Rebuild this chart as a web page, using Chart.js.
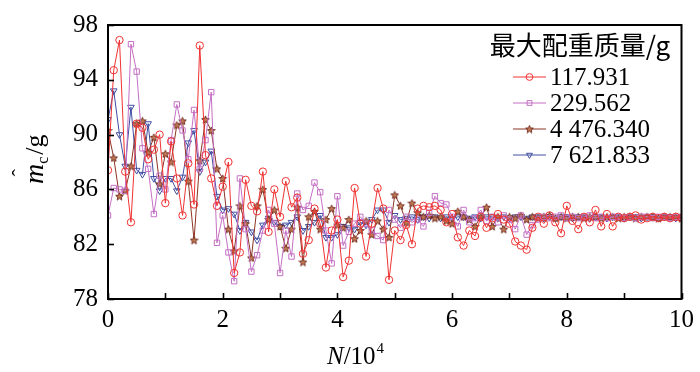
<!DOCTYPE html>
<html>
<head>
<meta charset="utf-8">
<script src="https://cdn.jsdelivr.net/npm/chart.js@4/dist/chart.umd.min.js"></script>
<style>
  body { margin: 0; background: #fff; }
</style>
</head>
<body>
<canvas id="balanceChart" width="700" height="372"></canvas>
<script>
// x sampling: every 0.1 (x10^4 iterations) from 0 to 10
const stepN = 0.1;

const legendTitle = '最大配重质量/g';
const seriesNames = ['117.931', '229.562', '4 476.340', '7 621.833'];

const m117 = [87.4, 94.7, 96.9, 87.3, 83.6, 90.8, 90.5, 88.2, 88.9, 90.0,
    85.0, 89.5, 86.8, 84.1, 87.9, 84.9, 96.5, 88.5, 86.8, 84.8,
    86.2, 88.0, 79.9, 81.4, 86.7, 84.8, 84.4, 87.3, 82.9, 86.0,
    84.0, 86.6, 84.7, 85.4, 81.3, 82.3, 84.6, 83.5, 80.3, 83.0,
    83.8, 79.6, 80.8, 86.1, 83.5, 81.1, 83.5, 86.1, 84.6, 79.4,
    83.0, 82.3, 83.4, 82.0, 84.6, 84.8, 84.7, 84.8, 84.5, 83.6,
    84.2, 82.5, 81.9, 83.0, 82.6, 84.0, 83.2, 83.9, 84.2, 83.8,
    83.5, 82.2, 81.9, 81.6, 83.2, 84.0, 83.5, 84.1, 83.6, 82.8,
    84.8, 83.7, 83.1, 84.0, 83.6, 84.5, 83.3, 84.2, 83.3, 84.0,
    83.9, 84.0, 84.1, 83.8, 83.9, 84.0, 83.9, 84.0, 83.9, 84.0, 83.9];

const m229 = [84.1, 86.1, 86.0, 85.9, 96.6, 94.6, 89.0, 87.5, 84.2, 87.0,
    86.0, 89.6, 92.2, 90.3, 88.2, 91.8, 87.5, 89.6, 93.1, 82.1,
    84.1, 81.4, 79.3, 86.8, 83.1, 80.0, 81.2, 83.0, 84.5, 83.5,
    79.9, 83.0, 81.1, 85.7, 84.5, 84.8, 86.5, 85.8, 83.0, 80.6,
    85.5, 81.9, 82.9, 83.5, 84.0, 83.5, 83.0, 82.6, 82.3, 84.5,
    83.8, 83.2, 84.0, 83.6, 83.8, 83.3, 84.3, 85.5, 85.0, 84.9,
    84.0, 83.3, 84.5, 83.6, 83.9, 84.5, 83.7, 84.0, 83.6, 84.1,
    83.8, 83.1, 84.1, 82.7, 83.4, 83.8, 84.0, 83.9, 84.0, 84.1,
    83.9, 84.0, 83.9, 84.0, 84.1, 83.9, 84.0, 83.9, 84.0, 84.0,
    83.9, 84.0, 83.9, 84.0, 84.0, 83.9, 84.0, 84.0, 83.9, 84.0, 84.0];

const m4476 = [90.3, 88.3, 85.5, 85.9, 87.7, 90.8, 91.0, 88.7, 89.8, 86.4,
    88.6, 88.0, 90.7, 91.0, 86.6, 82.3, 88.1, 91.1, 90.3, 87.5,
    86.8, 83.1, 81.5, 84.8, 83.5, 81.0, 84.8, 86.0, 83.8, 84.5,
    83.3, 81.7, 83.1, 84.7, 80.7, 84.0, 84.4, 83.1, 83.8, 84.6,
    83.4, 83.2, 83.8, 82.4, 83.0, 83.7, 82.7, 83.7, 83.1, 82.5,
    85.6, 84.8, 83.6, 85.0, 84.3, 84.0, 84.1, 83.9, 84.0, 83.7,
    83.5, 84.4, 84.0, 83.8, 83.3, 84.0, 84.7, 83.3, 84.0, 83.1,
    84.0, 83.9, 84.1, 83.8, 84.0, 83.9, 84.0, 84.1, 83.9, 84.0,
    83.9, 84.0, 84.0, 83.9, 84.0, 84.0, 83.9, 84.0, 84.0, 83.9,
    84.0, 84.0, 83.9, 84.0, 84.0, 84.0, 83.9, 84.0, 84.0, 84.0, 83.9];

const m7621 = [91.1, 93.2, 90.0, 87.7, 92.0, 87.4, 87.1, 90.8, 86.8, 85.9,
    86.8, 86.8, 85.9, 86.9, 89.4, 90.3, 87.3, 88.0, 88.8, 85.5,
    84.5, 84.6, 84.2, 83.0, 83.6, 82.9, 82.3, 83.4, 83.9, 83.6,
    83.3, 83.4, 83.6, 84.0, 83.0, 83.3, 83.6, 84.1, 82.5, 82.5,
    82.7, 83.3, 83.2, 83.1, 83.6, 83.4, 83.8, 84.5, 84.5, 83.6,
    84.1, 83.8, 83.9, 84.0, 83.8, 84.0, 83.9, 84.0, 83.9, 84.0,
    83.9, 84.0, 84.0, 83.9, 84.0, 83.9, 84.0, 84.0, 83.9, 84.0,
    83.9, 84.0, 84.0, 83.9, 84.0, 84.0, 83.9, 84.0, 83.9, 84.0,
    84.0, 83.9, 84.0, 84.0, 83.9, 84.0, 84.0, 83.9, 84.0, 84.0,
    83.9, 84.0, 84.0, 83.9, 84.0, 84.0, 83.9, 84.0, 84.0, 83.9, 84.0];

const serif = '"Liberation Serif", "Times New Roman", serif';
const cjk = '"Noto Sans CJK SC", "Liberation Serif", serif';

// small filled 5-point star for the brown series
function makeStar(fill, stroke) {
    const c = document.createElement('canvas');
    c.width = 9; c.height = 9;
    const g = c.getContext('2d');
    g.beginPath();
    for (let i = 0; i < 10; i++) {
        const r = i % 2 === 0 ? 4.0 : 1.8;
        const a = -Math.PI / 2 + i * Math.PI / 5;
        g.lineTo(4.5 + r * Math.cos(a), 4.9 + r * Math.sin(a));
    }
    g.closePath();
    g.fillStyle = fill;
    g.fill();
    g.strokeStyle = stroke;
    g.lineWidth = 0.9;
    g.stroke();
    return c;
}

const starImg = makeStar('#c07a55', '#6e2418');

function toPoints(vals) {
    return vals.map((v, i) => ({ x: Math.round(i * stepN * 10) / 10, y: v }));
}

const seriesStyles = [
    { color: 'rgb(240,50,50)', pointStyle: 'circle', rotation: 0 },
    { color: 'rgb(196,112,196)', pointStyle: 'rect', rotation: 0 },
    { color: 'rgb(140,52,36)', pointStyle: starImg, rotation: 0 },
    { color: 'rgb(64,78,162)', pointStyle: 'triangle', rotation: 180 }
];

const allSeries = [m117, m229, m4476, m7621];

const datasets = allSeries.map((vals, k) => ({
    label: seriesNames[k],
    data: toPoints(vals),
    borderColor: seriesStyles[k].color,
    borderWidth: 1,
    pointStyle: seriesStyles[k].pointStyle,
    pointRotation: seriesStyles[k].rotation,
    pointRadius: k === 0 ? 3.7 : 3.8,
    pointBorderColor: seriesStyles[k].color,
    pointBackgroundColor: 'rgba(255,255,255,0)',
    pointBorderWidth: 1,
    tension: 0
}));

const decorations = {
    id: 'decorations',
    afterDraw(chart) {
        const { ctx, chartArea: a, scales } = chart;
        const xs = scales.x, ys = scales.y;
        ctx.save();
        // inward ticks
        ctx.strokeStyle = '#000';
        ctx.lineWidth = 1.6;
        xs.ticks.forEach(t => {
            const px = Math.round(xs.getPixelForValue(t.value)) + 0.5;
            ctx.beginPath(); ctx.moveTo(px, a.bottom); ctx.lineTo(px, a.bottom - 6); ctx.stroke();
        });
        ys.ticks.forEach(t => {
            const py = Math.round(ys.getPixelForValue(t.value)) + 0.5;
            ctx.beginPath(); ctx.moveTo(a.left, py); ctx.lineTo(a.left + 6, py); ctx.stroke();
        });
        // frame
        ctx.lineWidth = 2;
        ctx.strokeRect(a.left, a.top, a.right - a.left, a.bottom - a.top);

        // x title: N/10^4
        ctx.fillStyle = '#000';
        ctx.textBaseline = 'alphabetic';
        ctx.textAlign = 'left';
        let x0 = 327;
        ctx.font = 'italic 25px ' + serif;
        ctx.fillText('N', x0, 364);
        x0 += ctx.measureText('N').width;
        ctx.font = '25px ' + serif;
        ctx.fillText('/10', x0, 364);
        x0 += ctx.measureText('/10').width;
        ctx.font = '15px ' + serif;
        ctx.fillText('4', x0 + 1, 353);

        // y title: m-hat sub c /g
        ctx.save();
        ctx.translate(43, 184);
        ctx.rotate(-Math.PI / 2);
        ctx.font = 'italic 28px ' + serif;
        ctx.fillText('m', 0, 0);
        const mw = ctx.measureText('m').width;
        ctx.font = '22px ' + serif;
        ctx.textAlign = 'center';
        ctx.fillText('\u02C6', mw / 2 + 1, -16);
        ctx.textAlign = 'left';
        ctx.font = '16px ' + serif;
        ctx.fillText('c', mw, 5);
        const cw = ctx.measureText('c').width;
        ctx.font = '26px ' + serif;
        ctx.fillText('/g', mw + cw + 2, 0);
        ctx.restore();

        // legend
        ctx.textBaseline = 'middle';
        ctx.font = '26px ' + cjk;
        ctx.textAlign = 'center';
        ctx.fillText(legendTitle, 580, 45);
        chart.data.datasets.forEach((ds, k) => {
            const yy = 77 + k * 26;
            ctx.strokeStyle = ds.borderColor;
            ctx.lineWidth = 1;
            ctx.beginPath(); ctx.moveTo(513, yy); ctx.lineTo(546, yy); ctx.stroke();
            ctx.fillStyle = 'rgba(255,255,255,0)';
            Chart.helpers.drawPoint(ctx, {
                pointStyle: ds.pointStyle,
                rotation: ds.pointRotation,
                radius: 3.4,
                borderWidth: 1
            }, 529.5, yy);
            ctx.fillStyle = '#000';
            ctx.textAlign = 'left';
            ctx.textBaseline = 'middle';
            ctx.font = '25px ' + serif;
            ctx.fillText(ds.label, 550, yy + 1);
        });
        ctx.restore();
    }
};

const config = {
    type: 'line',
    data: { datasets: datasets },
    options: {
        responsive: false,
        animation: false,
        layout: { padding: { left: 0, top: 14, right: 18, bottom: 0 } },
        plugins: {
            legend: { display: false },
            tooltip: { enabled: false }
        },
        scales: {
            x: {
                type: 'linear',
                min: 0,
                max: 10,
                grid: { display: false, drawTicks: false },
                border: { display: false },
                afterFit: s => { s.height = 73; },
                ticks: {
                    stepSize: 1,
                    padding: 6,
                    color: '#000',
                    maxRotation: 0,
                    font: { family: serif, size: 25 },
                    callback: v => (v % 2 === 0 ? String(v) : '')
                }
            },
            y: {
                min: 78,
                max: 98,
                grid: { display: false, drawTicks: false },
                border: { display: false },
                afterFit: s => { s.width = 108; },
                ticks: {
                    stepSize: 2,
                    padding: 10,
                    color: '#000',
                    font: { family: serif, size: 25 },
                    callback: v => ((v - 78) % 4 === 0 ? String(v) : '')
                }
            }
        }
    },
    plugins: [decorations]
};

const balanceChart = new Chart(document.getElementById('balanceChart'), config);
</script>
</body>
</html>
